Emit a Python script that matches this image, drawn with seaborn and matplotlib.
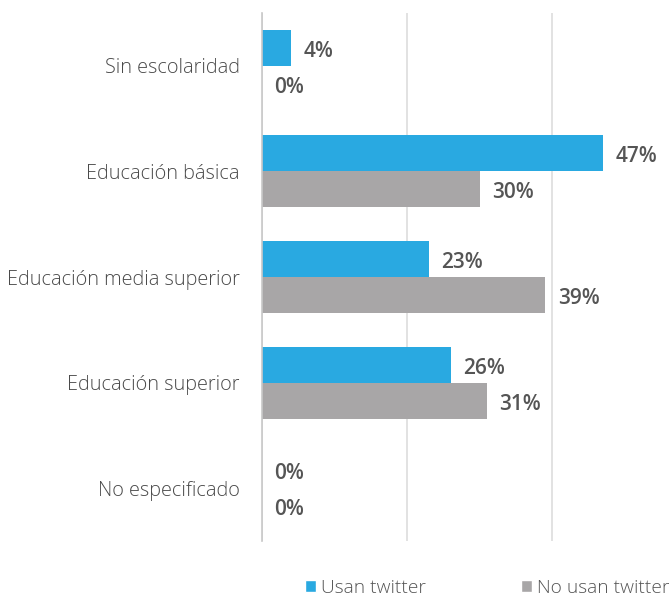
import pandas as pd
import matplotlib.pyplot as plt
import seaborn as sns
from matplotlib.patches import Patch

# data
categories = ["Sin escolaridad", "Educación básica", "Educación media superior",
              "Educación superior", "No especificado"]
usan = [4, 47, 23, 26, 0]
no_usan = [0, 30, 39, 31, 0]
series_names = ["Usan twitter", "No usan twitter"]
colors = ["#29A9E1", "#A8A6A7"]

sns.set_theme(style="white")
plt.rcParams['font.family'] = ['Open Sans', 'DejaVu Sans']

df = pd.DataFrame({
    'Nivel': categories * 2,
    'Serie': [series_names[0]] * len(categories) + [series_names[1]] * len(categories),
    'Pct': usan + no_usan,
})

fig = plt.figure(figsize=(6.7, 5.98), dpi=100)
ax = fig.add_axes([262 / 670, 57 / 598, 1 - 262 / 670, 528 / 598])

sns.barplot(data=df, y='Nivel', x='Pct', hue='Serie', orient='h',
            palette=colors, width=0.68, saturation=1, linewidth=0,
            ax=ax, legend=False)

for cont in ax.containers:
    texts = ax.bar_label(cont, labels=[f"{v:.0f}%" for v in cont.datavalues],
                         padding=9, fontsize=15, fontweight='semibold', color='#555555')
    for t in texts:
        t.xyann = (t.xyann[0], -2.5)

ax.set_xlim(0, 56.2)
ax.set_ylim(4.5, -0.5)
ax.set_xticks([0, 20, 40])
ax.set_xticklabels([])
ax.tick_params(axis='x', length=0)
ax.tick_params(axis='y', length=0, pad=16)
for lab in ax.get_yticklabels():
    lab.set_fontsize(14.3)
    lab.set_fontweight('light')
    lab.set_color('#4a4a4a')
ax.xaxis.grid(True, color='#DDDDDD', linewidth=1.2)
ax.set_axisbelow(True)
ax.set_xlabel("")
ax.set_ylabel("")
for side in ['top', 'right', 'bottom']:
    ax.spines[side].set_visible(False)
ax.spines['left'].set_color('#C8C8C8')
ax.spines['left'].set_linewidth(1.2)

handles = [Patch(facecolor=c, label=n) for c, n in zip(colors, series_names)]
leg = fig.legend(handles=handles, loc='center', bbox_to_anchor=(0.727, 0.017), ncol=2,
                 frameon=False, fontsize=13.8, handlelength=0.55, handleheight=0.55,
                 handletextpad=0.25, columnspacing=5.0, labelcolor='#555555')
for t in leg.get_texts():
    t.set_fontweight('light')

fig.savefig("out.png", dpi=100)
